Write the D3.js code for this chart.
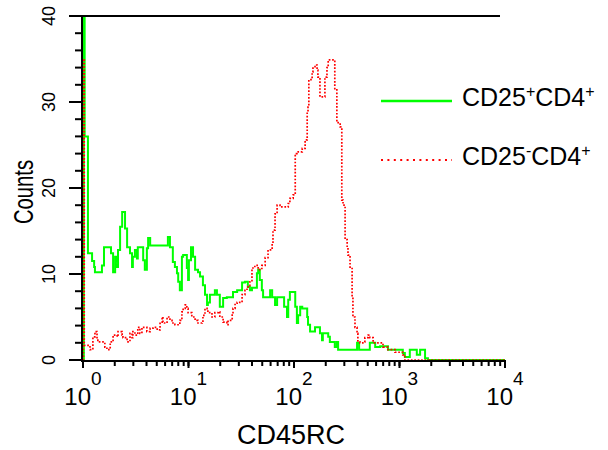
<!DOCTYPE html>
<html><head><meta charset="utf-8">
<script src="https://cdn.jsdelivr.net/npm/d3@7"></script>
<style>body{margin:0;background:#fff} svg{display:block}</style>
</head><body><svg id="c" width="608" height="450"></svg>
<script>
// channel (0..1024 over 4 decades) , counts
const greenSeries = [
[0,0],[2,40],[4,26],[12,12.4],[22,11.5],[27,10.8],[29,10.2],[46,11],[51,13.1],[68,12.4],[73,10.2],[78,12],[80,10.8],[85,12.8],[90,15.5],[95,17.2],[102,15.3],[107,13.1],[114,12.4],[119,10.8],[121,12],[126,12.8],[131,11.8],[133,13.1],[146,11.6],[150,10.5],[155,13],[158,14.2],[163,13.3],[206,14.3],[211,13.1],[218,11.4],[223,10.8],[228,10.1],[231,9.1],[235,8.1],[240,12],[243,12.2],[252,10.7],[255,9.3],[257,11.6],[262,13.1],[267,12],[272,10.5],[279,10.2],[284,9.7],[291,8.7],[296,7.6],[301,6.4],[303,6.7],[308,7.6],[320,8.1],[325,7.6],[332,6.2],[340,7.2],[349,7.3],[364,7.9],[374,8.1],[386,9],[393,9.1],[400,8.5],[405,8.1],[410,8.4],[422,10.1],[425,10.5],[429,9.3],[434,8.1],[437,7.3],[454,8.1],[459,7.3],[466,6.4],[471,7.3],[488,6.2],[495,5],[498,7],[502,7.9],[515,6.2],[519,4.3],[522,5.2],[527,6.2],[532,6],[544,5],[546,4.1],[551,3.3],[563,3.8],[575,3.1],[580,2.3],[582,3.1],[595,2.7],[599,2.1],[611,1.5],[616,2.1],[619,1.2],[665,2],[670,1.2],[696,2],[709,1.5],[721,1.6],[740,1.2],[776,0.8],[781,0.35],[793,1.2],[810,0.6],[818,1.2],[830,0.2],[837,0],[1024,0]
];
const redSeries = [
[0,0],[1,35],[3,1.7],[17,1.2],[24,2.7],[29,3.3],[34,2.3],[36,2.1],[53,1.5],[58,1.2],[66,2.1],[73,2.9],[83,2.7],[85,3.3],[95,2.9],[97,2.6],[107,2.1],[114,3.1],[119,2.6],[121,3.3],[126,2.9],[133,3.8],[138,3.1],[143,3.8],[155,3.3],[163,3.7],[170,3.8],[180,3.5],[187,4.4],[192,5],[194,4.3],[204,5],[211,4.6],[216,4.3],[223,4.1],[235,4.6],[240,5.6],[243,6],[248,6.4],[252,6],[255,5.5],[264,5],[272,4.6],[279,4.3],[289,4.4],[291,5.2],[296,6],[301,5.8],[303,5.5],[313,5],[320,5.5],[328,5.6],[332,5],[340,4.4],[349,4.1],[352,4.6],[362,5.5],[364,6],[369,6.6],[374,6.7],[386,7.6],[393,8.1],[398,8.5],[405,9.1],[410,10.7],[417,11],[425,10.5],[434,11],[442,11.9],[449,12.8],[459,13.4],[461,15.1],[466,17],[471,18],[478,17.8],[498,18.2],[502,18.8],[510,19.2],[515,24],[519,24.2],[532,24.6],[539,25.6],[544,28.8],[546,29.4],[548,32.6],[556,33.5],[558,34.1],[563,34.3],[568,33.7],[570,32.9],[575,30.6],[587,32.9],[592,34],[595,34.9],[611,31.4],[616,27.6],[624,27.1],[628,18.6],[631,18],[636,14],[641,13.1],[643,12.2],[648,10.8],[653,7.3],[655,5],[660,3.8],[665,3.1],[667,2.1],[672,2],[679,2.1],[684,2.6],[692,2.9],[696,2.6],[704,2],[728,1.5],[740,1.2],[757,0.9],[776,0.6],[781,0],[1024,0]
];
const yMajorTicks = [0,10,20,30,40];
const yTickLabels = ["0","10","20","30","40"];
const xMajorTicks = [1,10,100,1000,10000];
const xTickExponents = ["0","1","2","3","4"];
const legendLabels = [
  [["CD25",false],["+",true],["CD4",false],["+",true]],
  [["CD25",false],["-",true],["CD4",false],["+",true]]
];
const seriesColors = ["#00ff00","#ff0000"];
const xTitle = "CD45RC";
const yTitle = "Counts";

const FONT = "'Liberation Sans', Arial, Helvetica, sans-serif";
const svg = d3.select("#c");
const x = d3.scaleLog().domain([1,1e4]).range([83,505]);
const xc = d3.scaleLinear().domain([0,1024]).range([83,505]);
const y = d3.scaleLinear().domain([0,40]).range([360,16]);
const X0 = 82, Y0 = 361;

// curves
const line = d3.line().x(d=>xc(d[0])).y(d=>y(d[1])).curve(d3.curveStepAfter);
svg.append("path").datum(greenSeries).attr("d",line).attr("fill","none")
  .attr("stroke",seriesColors[0]).attr("stroke-width",2);
svg.append("path").datum(redSeries).attr("d",line).attr("fill","none")
  .attr("stroke",seriesColors[1]).attr("stroke-width",1.7).attr("stroke-dasharray","1.7,1.7");

// axes (drawn last)
const axes = svg.append("g").attr("stroke","#000").attr("stroke-width",2).attr("fill","none");
axes.append("line").attr("x1",X0).attr("x2",500).attr("y1",y(40)).attr("y2",y(40));
axes.append("line").attr("x1",X0).attr("x2",X0).attr("y1",y(40)-1).attr("y2",Y0+1);
axes.append("line").attr("x1",X0-1).attr("x2",x(1e4)+1).attr("y1",Y0).attr("y2",Y0);
axes.selectAll("line.ymin").data(d3.range(0,41,2)).join("line").attr("class","ymin")
  .attr("x1",X0-7).attr("x2",X0).attr("y1",d=>y(d)).attr("y2",d=>y(d));
axes.selectAll("line.ymaj").data(yMajorTicks).join("line").attr("class","ymaj")
  .attr("x1",X0-13).attr("x2",X0).attr("y1",d=>y(d)).attr("y2",d=>y(d));
axes.selectAll("line.xmin").data(x.ticks()).join("line").attr("class","xmin")
  .attr("x1",d=>x(d)).attr("x2",d=>x(d)).attr("y1",Y0).attr("y2",Y0+5);
axes.selectAll("line.xmaj").data(xMajorTicks).join("line").attr("class","xmaj")
  .attr("x1",d=>x(d)).attr("x2",d=>x(d)).attr("y1",Y0).attr("y2",Y0+7);

svg.selectAll("text.ylab").data(yMajorTicks).join("text").attr("class","ylab")
  .attr("transform",d=>`translate(${X0-27},${y(d)}) rotate(-90)`)
  .attr("text-anchor","middle").attr("font-size",18).attr("font-family",FONT).attr("fill","#000")
  .text((d,i)=>yTickLabels[i]);
const xl = svg.selectAll("text.xlab").data(xMajorTicks).join("text").attr("class","xlab")
  .attr("x",d=>x(d)).attr("y",405).attr("text-anchor","middle")
  .attr("font-family",FONT).attr("fill","#000");
xl.append("tspan").attr("font-size",24).text("10");
xl.append("tspan").attr("font-size",19).attr("dy",-20).text((d,i)=>xTickExponents[i]);

// titles
svg.append("text").attr("x",291).attr("y",444).attr("text-anchor","middle")
  .attr("font-family",FONT).attr("font-size",27).attr("fill","#000").text(xTitle);
svg.append("text").attr("transform","translate(33,192) rotate(-90) scale(0.75,1)")
  .attr("text-anchor","middle").attr("font-family",FONT).attr("font-size",27).attr("fill","#000").text(yTitle);

// legend
const legY = [101,160];
const legBase = [106,165];
legendLabels.forEach((parts,i)=>{
  const ln = svg.append("line").attr("x1",381).attr("x2",452).attr("y1",legY[i]).attr("y2",legY[i])
    .attr("stroke",seriesColors[i]);
  if(i===0){ ln.attr("stroke-width",2.5); }
  else { ln.attr("stroke-width",2).attr("stroke-dasharray","2,4.4"); }
  const t = svg.append("text").attr("x",462).attr("y",legBase[i]).attr("font-family",FONT).attr("fill","#000");
  parts.forEach(([s,sup])=>{
    t.append("tspan").attr("font-size",sup?16:25).attr("y",sup?legBase[i]-9:legBase[i]).text(s);
  });
});
</script></body></html>
